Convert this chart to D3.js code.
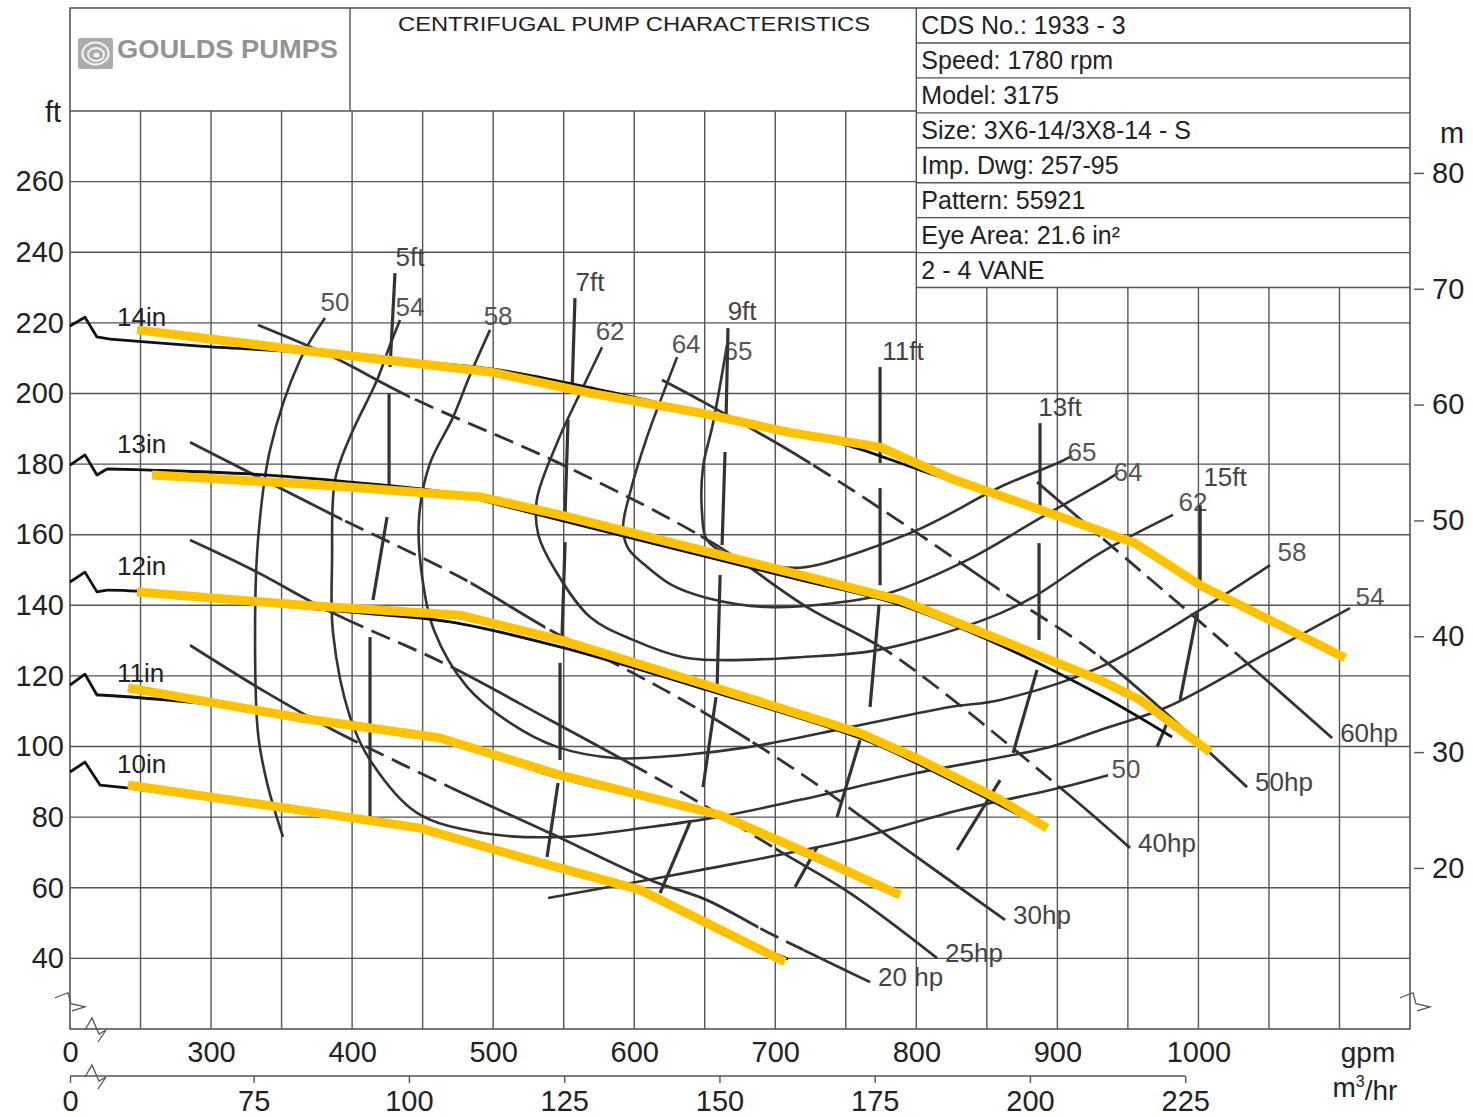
<!DOCTYPE html>
<html><head><meta charset="utf-8">
<script src="https://cdn.jsdelivr.net/npm/d3@7"></script>
<style>
body{margin:0;background:#fff}
svg{display:block;font-family:"Liberation Sans",Arial,Helvetica,sans-serif}
</style>
</head><body>
<svg id="chart" width="1473" height="1117"></svg>
<script>
// ---------------- DATA ----------------
const titleText = "CENTRIFUGAL PUMP CHARACTERISTICS";
const logoText = "GOULDS PUMPS";
const infoRows = ["CDS No.: 1933 - 3","Speed: 1780 rpm","Model: 3175","Size: 3X6-14/3X8-14 - S",
                  "Imp. Dwg: 257-95","Pattern: 55921","Eye Area: 21.6 in\u00B2","2 - 4 VANE"];
const ftTicks = [40,60,80,100,120,140,160,180,200,220,240,260];
const gpmTicks = [200,300,400,500,600,700,800,900,1000];
const gpmTickLabels = ["0","300","400","500","600","700","800","900","1000"];
const m3Ticks = [0,75,100,125,150,175,200,225];
const mTicks = [20,30,40,50,60,70,80];

// impeller head curves [gpm, ft] (black original lines)
const imp14 = [[200,219.1],[210.6,221.6],[219.1,216.0],[228.4,215.4],[292.2,213.4],[363.1,211.7],[448.2,208.9],[504.9,206.6],[575.8,201.0],[646.7,194.7],[710.5,189.1],[753.0,185.1],[802.7,178.3],[859.4,170.7],[930.3,160.5],[965.7,155.1],[1001.2,145.7],[1100.5,125.6]];
const imp13 = [[200,179.7],[210.6,182.6],[219.1,176.9],[226.2,178.6],[256.7,178.3],[327.6,177.2],[398.5,174.9],[469.4,171.8],[504.9,168.4],[547.4,164.1],[646.7,154.2],[717.6,147.2],[788.5,140.1],[859.4,128.7],[930.3,114.6],[981.3,102.7]];
const imp12 = [[200,146.6],[210.6,149.4],[219.1,143.8],[226.2,144.3],[247.5,144.0],[327.6,140.6],[398.5,138.1],[469.4,135.3],[549.5,128.0],[646.7,116.6],[760.1,102.4],[802.7,94.8],[859.4,83.4],[891.3,76.9]];
const imp11 = [[200,117.4],[210.6,120.5],[219.1,114.6],[221.3,114.6],[292.2,112.3],[363.1,108.1],[462.3,101.8],[547.4,91.1],[660.8,79.8],[717.6,69.8],[787.1,57.4]];
const imp10 = [[200,92.8],[210.6,95.6],[221.3,89.1],[240.4,88.3],[363.1,81.5],[448.2,76.4],[526.1,67.3],[604.1,58.8],[646.7,50.3],[709.1,39.8]];
const impNames = ["14in","13in","12in","11in","10in"];
const impLabelAt = [[233.3,219.1],[233.3,183.1],[233.3,148.6],[233.3,118.3],[233.3,92.5]];

// yellow highlighted curves [gpm, ft]
const hi14 = [[247.5,218.0],[363.1,212.3],[497.8,206.1],[568.7,200.1],[646.7,194.5],[710.5,188.9],[774.3,184.8],[823.9,176.0],[894.8,166.1],[955.1,157.6],[1001.2,145.7],[1104.0,125.1]];
const hi13 = [[258.1,176.9],[377.3,174.1],[490.7,170.7],[547.4,165.6],[646.7,155.7],[717.6,148.6],[788.5,141.5],[859.4,130.2],[930.3,118.8],[958.6,113.2],[1008.3,98.4]];
const hi12 = [[247.5,143.8],[363.1,140.1],[476.5,137.2],[547.4,130.2],[646.7,118.0],[760.1,103.8],[802.7,96.2],[859.4,84.9],[892.7,76.9]];
const hi11 = [[241.1,116.6],[363.1,108.1],[462.3,102.4],[547.4,91.9],[660.8,80.6],[717.6,70.7],[788.5,57.9]];
const hi10 = [[241.1,89.1],[363.1,82.0],[448.2,76.9],[526.1,67.9],[604.1,59.4],[646.7,50.9],[706.9,39.0]];

// efficiency (%) contours [gpm, ft]
const eff50a = [[380.8,221.4],[363.1,209.5],[341.8,184.0],[333.3,158.5],[331.2,133.0],[333.3,103.8],[339.7,89.7],[351.0,74.4]];
const eff50b = [[538.9,57.1],[646.7,65.0],[753.0,73.5],[831.0,82.0],[901.9,88.3],[935.9,91.9]];
const eff54 = [[434.0,220.8],[426.9,213.7],[417.7,203.8],[398.5,187.7],[387.9,175.5],[385.8,152.8],[386.5,132.1],[398.5,108.4],[412.7,96.2],[446.0,81.2],[492.8,75.5],[549.5,74.4],[611.2,77.2],[658.7,80.0],[717.6,84.9],[800.5,92.5],[894.8,99.9],[930.3,104.7],[977.8,111.2],[1048.7,126.5],[1107.5,139.2]];
const eff58 = [[497.8,218.0],[483.6,205.2],[471.6,193.3],[455.0,180.0],[447.5,165.0],[449.0,150.0],[458.0,133.0],[481.5,116.9],[512.0,106.7],[545.3,99.9],[587.8,96.7],[634.6,97.6],[682.1,99.9],[753.0,105.5],[823.9,111.2],[859.4,113.2],[930.3,122.5],[1001.2,138.7],[1050.8,151.4]];
const eff62 = [[577.2,213.1],[563.7,201.8],[545.3,186.0],[531.0,170.0],[532.0,160.0],[543.9,150.0],[568.7,136.7],[599.2,130.2],[634.6,125.3],[658.7,124.5],[717.6,125.3],[772.2,127.3],[847.3,135.8],[882.8,142.3],[930.3,154.8],[982.0,165.6]];
const eff64 = [[630.4,210.3],[623.3,202.9],[609.1,187.7],[597.0,171.8],[592.1,162.2],[595.6,156.2],[607.7,151.4],[626.8,145.7],[651.6,142.1],[694.2,139.5],[741.0,140.6],[780.7,143.5],[836.0,152.8],[887.7,164.7],[935.2,175.5],[943.0,177.5]];
const eff65 = [[665.8,213.7],[655.9,191.6],[648.8,179.2],[648.1,166.1],[651.6,158.5],[670.1,153.7],[712.6,150.6],[729.6,151.4],[800.5,161.3],[859.4,173.5],[901.9,180.6],[910.4,182.3]];
const effLabels = ["50","54","58","62","64","65","65","64","62","58","54","50"];
const effLabelAt = [[387.9,223.3],[441.1,221.9],[503.5,219.4],[582.9,215.1],[636.8,211.4],[673.6,209.5],
                    [917.5,180.9],[950.1,175.2],[996.2,166.7],[1066.4,152.5],[1121.7,139.8],[948.7,91.1]];

// power (hp) lines [gpm, ft], dashed gpm ranges
const hp20 = [[285.1,128.7],[339.7,115.2],[386.5,104.7],[469.4,88.5],[540.3,75.5],[611.2,62.2],[651.6,56.5],[694.2,47.5],[767.2,33.3]];
const hp25 = [[285.1,158.5],[329.7,150.0],[386.5,137.8],[464.5,123.7],[540.3,107.5],[634.6,86.8],[705.5,69.8],[753.0,58.5],[814.7,40.1]];
const hp30 = [[285.1,186.2],[386.5,165.6],[476.5,148.0],[540.3,133.0],[599.2,120.8],[646.7,110.3],[717.6,92.5],[790.6,71.5],[862.9,50.9]];
const hp40 = [[333.3,219.4],[386.5,210.3],[441.1,199.0],[552.4,179.2],[655.9,157.6],[722.5,139.5],[781.4,126.5],[904.0,87.7],[951.5,71.3]];
const hp50 = [[619.7,203.8],[646.7,198.1],[717.6,182.0],[800.5,160.5],[859.4,144.3],[930.3,125.3],[1034.5,88.5]];
const hp60 = [[885.6,174.9],[951.5,152.3],[1001.2,135.3],[1094.8,102.4]];
const hpNames = ["20 hp","25hp","30hp","40hp","50hp","60hp"];
const hpDashed = [[[395,470],[688,720]],[[395,470],[600,700]],[[393,484],[537,647],[682,753]],[[441,647],[774,902]],[[725,831],[859,930]],[[930,1030]]];

// NPSHr lines (segments) [gpm, ft]
const npsh5 = [[[430.4,234.1],[426.9,207.5]],[[426.2,200.1],[426.2,173.5]],[[424.8,165.0],[414.8,141.5]],[[412.7,131.0],[412.7,80.0]]];
const npsh7 = [[[558.0,227.0],[555.9,200.1]],[[553.1,192.5],[551.0,166.1]],[[551.0,157.9],[548.8,131.0]],[[547.4,123.7],[547.4,96.2]],[[546.0,89.7],[538.2,68.7]]];
const npsh9 = [[[666.5,218.5],[665.1,192.5]],[[664.4,183.4],[662.3,157.1]],[[660.9,148.6],[658.7,116.0]],[[658.0,114.0],[648.8,88.5]],[[639.6,78.6],[618.3,58.5]]];
const npsh11 = [[[774.3,207.5],[774.3,180.3]],[[774.3,173.2],[774.3,145.7]],[[773.6,140.1],[767.2,111.2]],[[760.1,101.8],[743.8,80.0]],[[729.6,71.5],[714.0,60.2]]];
const npsh13 = [[[887.7,191.6],[887.7,166.4]],[[887.0,157.6],[887.0,130.2]],[[885.6,121.7],[868.6,98.2]],[[859.4,90.5],[828.9,70.7]]];
const npsh15 = [[[1001.2,168.4],[1001.2,144.3]],[[999.1,137.8],[987.0,113.2]],[[977.8,106.7],[970.7,99.9]]];
const npshNames = ["5ft","7ft","9ft","11ft","13ft","15ft"];
const npshLabelAt = [[441.1,236.1],[568.7,229.0],[676.5,220.8],[790.6,209.5],[901.9,193.6],[1018.9,173.8]];

// ---------------- DRAW ----------------
const svg = d3.select("#chart");
const x = d3.scaleLinear().domain([200,1150]).range([70,1410]);
const y = d3.scaleLinear().domain([20,280]).range([1029,111]);
const GRID = "#555", INK = "#333";
const frameTop = 8, tableBottom = y(230), tableLeft = x(800), frameRight = x(1150), frameBottom = y(20), frameLeft = x(200);

// grid
const g = svg.append("g");
d3.range(250,1150,50).forEach(v=>{
  g.append("line").attr("x1",x(v)).attr("x2",x(v))
   .attr("y1", v<800 ? y(280) : (v===800 ? frameTop : tableBottom)).attr("y2",frameBottom)
   .attr("stroke",GRID).attr("stroke-width",1.4);
});
d3.range(40,281,20).forEach(v=>{
  g.append("line").attr("x1",frameLeft).attr("x2", v>=240 ? tableLeft : frameRight)
   .attr("y1",y(v)).attr("y2",y(v)).attr("stroke",GRID).attr("stroke-width",1.4);
});
// frame
g.append("rect").attr("x",frameLeft).attr("y",frameTop).attr("width",frameRight-frameLeft).attr("height",frameBottom-frameTop)
 .attr("fill","none").attr("stroke",GRID).attr("stroke-width",1.6);
g.append("line").attr("x1",350).attr("x2",350).attr("y1",frameTop).attr("y2",y(280)).attr("stroke",GRID).attr("stroke-width",1.4);
// info table
const rowH = (tableBottom-frameTop)/infoRows.length;
infoRows.forEach((t,i)=>{
  const y0 = frameTop + i*rowH;
  g.append("line").attr("x1",tableLeft).attr("x2",frameRight).attr("y1",y0+rowH).attr("y2",y0+rowH)
   .attr("stroke",GRID).attr("stroke-width",1.4);
  svg.append("text").attr("x",tableLeft+5).attr("y",y0+rowH/2).attr("dy","0.36em")
   .attr("font-size",25).attr("fill","#222").text(t);
});
// title
svg.append("text").attr("x",634).attr("y",23).attr("dy","0.36em").attr("text-anchor","middle")
  .attr("font-size",21).attr("fill","#222").attr("textLength",472).attr("lengthAdjust","spacingAndGlyphs").text(titleText);
// logo
const lg = svg.append("g").attr("opacity",0.7);
lg.append("rect").attr("x",78).attr("y",38).attr("width",35).attr("height",31).attr("rx",2).attr("fill","#8a8a8a");
lg.append("ellipse").attr("cx",95.5).attr("cy",53.5).attr("rx",13).attr("ry",11).attr("fill","none").attr("stroke","#eee").attr("stroke-width",2.2);
lg.append("ellipse").attr("cx",96).attr("cy",54.5).attr("rx",8).attr("ry",6.5).attr("fill","none").attr("stroke","#eee").attr("stroke-width",2);
lg.append("ellipse").attr("cx",96.5).attr("cy",55).attr("rx",3).attr("ry",2.5).attr("fill","#eee");
lg.append("text").attr("x",117).attr("y",58).attr("font-size",25).attr("font-weight","bold").attr("fill","#666")
  .attr("textLength",221).attr("lengthAdjust","spacingAndGlyphs").text(logoText);

// axes
const axL = svg.append("g").attr("transform",`translate(${frameLeft},0)`)
  .call(d3.axisLeft(y).tickValues(ftTicks).tickSize(0).tickPadding(6));
const axB = svg.append("g").attr("transform",`translate(0,${frameBottom})`)
  .call(d3.axisBottom(x).tickValues(gpmTicks).tickFormat((d,i)=>gpmTickLabels[i]).tickSize(0).tickPadding(12));
const m3ToGpm = m => m===0 ? 200 : m*4.40287;
const axM3 = svg.append("g").attr("transform","translate(0,1076)")
  .call(d3.axisBottom(x).tickValues(m3Ticks.map(m3ToGpm)).tickFormat((d,i)=>m3Ticks[i]).tickSize(7).tickPadding(7));
axM3.append("line").attr("x1",frameLeft).attr("x2",x(m3ToGpm(225))).attr("y1",0).attr("y2",0).attr("stroke",GRID).attr("stroke-width",1.4);
const axR = svg.append("g").attr("transform",`translate(${frameRight+4},0)`)
  .call(d3.axisRight(y).tickValues(mTicks.map(m=>m*3.28084)).tickFormat((d,i)=>mTicks[i]).tickSize(10).tickPadding(8));
[axL,axB,axM3,axR].forEach(a=>{
  a.select(".domain").remove();
  a.selectAll("text").attr("font-size",29).attr("fill","#222").attr("font-family",'"Liberation Sans",Arial,sans-serif');
  a.selectAll(".tick line").attr("stroke",GRID).attr("stroke-width",1.4);
});
svg.append("text").attr("x",53).attr("y",112).attr("dy","0.36em").attr("text-anchor","middle").attr("font-size",29).attr("fill","#222").text("ft");
svg.append("text").attr("x",1452).attr("y",133).attr("dy","0.36em").attr("text-anchor","middle").attr("font-size",29).attr("fill","#222").text("m");
svg.append("text").attr("x",1368).attr("y",1052).attr("dy","0.36em").attr("text-anchor","middle").attr("font-size",28).attr("fill","#222").text("gpm");
const m3t = svg.append("text").attr("x",1365).attr("y",1087).attr("dy","0.36em").attr("text-anchor","middle").attr("font-size",28).attr("fill","#222");
m3t.append("tspan").text("m");
m3t.append("tspan").attr("font-size",16).attr("dy","-0.6em").text("3");
m3t.append("tspan").attr("dy","0.45em").text("/hr");

// axis break marks
const brk = svg.append("g").attr("fill","none").attr("stroke","#555").attr("stroke-width",1.3);
const bx = frameLeft, by = frameBottom, yb = y(28);
brk.append("path").attr("d",`M${bx+15},${by+1} L${bx+22},${by-11} L${bx+29},${by+5} L${bx+36},${by+1} L${bx+28},${by+13}`);
brk.append("path").attr("d",`M${bx+15},1077 L${bx+22},1065 L${bx+29},1081 L${bx+36},1077 L${bx+28},1089`);
brk.append("path").attr("d",`M${bx-15},${yb-3} L${bx-2},${yb-8} L${bx+1},${yb+3} L${bx+15},${yb+6} L${bx+2},${yb+10}`);
brk.append("path").attr("d",`M${frameRight-10},${yb-3} L${frameRight+3},${yb-8} L${frameRight+6},${yb+3} L${frameRight+20},${yb+6} L${frameRight+7},${yb+10}`);

const line = d3.line().x(d=>x(d[0])).y(d=>y(d[1])).curve(d3.curveCatmullRom.alpha(0.5));
const lineLin = d3.line().x(d=>x(d[0])).y(d=>y(d[1]));

// efficiency curves
const effG = svg.append("g").attr("fill","none").attr("stroke",INK).attr("stroke-width",2.6);
[eff50a,eff50b,eff54,eff58,eff62,eff64,eff65].forEach(c=>effG.append("path").attr("d",line(c)));
effLabels.forEach((t,i)=>svg.append("text").attr("x",x(effLabelAt[i][0])).attr("y",y(effLabelAt[i][1]))
  .attr("text-anchor","middle").attr("font-size",26).attr("fill","#555").text(t));

// NPSH lines
const npG = svg.append("g").attr("fill","none").attr("stroke",INK).attr("stroke-width",3.2);
[npsh5,npsh7,npsh9,npsh11,npsh13,npsh15].forEach(segs=>segs.forEach(s=>npG.append("path").attr("d",lineLin(s))));
npshNames.forEach((t,i)=>svg.append("text").attr("x",x(npshLabelAt[i][0])).attr("y",y(npshLabelAt[i][1]))
  .attr("text-anchor","middle").attr("font-size",26).attr("fill","#444").text(t));

// hp lines with dashed portions
const defs = svg.append("defs");
const hpG = svg.append("g").attr("fill","none").attr("stroke",INK).attr("stroke-width",2.8);
[hp20,hp25,hp30,hp40,hp50,hp60].forEach((c,i)=>{
  const dr = hpDashed[i];
  const solidClip = defs.append("clipPath").attr("id","hs"+i);
  const dashClip = defs.append("clipPath").attr("id","hd"+i);
  let prev = 150;
  dr.forEach(r=>{
    solidClip.append("rect").attr("x",x(prev)).attr("y",0).attr("width",Math.max(0,x(r[0])-x(prev))).attr("height",1117);
    dashClip.append("rect").attr("x",x(r[0])).attr("y",0).attr("width",x(r[1])-x(r[0])).attr("height",1117);
    prev = r[1];
  });
  solidClip.append("rect").attr("x",x(prev)).attr("y",0).attr("width",1473).attr("height",1117);
  hpG.append("path").attr("d",line(c)).attr("clip-path",`url(#hs${i})`);
  hpG.append("path").attr("d",line(c)).attr("clip-path",`url(#hd${i})`).attr("stroke-dasharray","20 9");
  const e = c[c.length-1];
  svg.append("text").attr("x",x(e[0])+8).attr("y",y(e[1])+4).attr("font-size",26).attr("fill","#444").text(hpNames[i]);
});

// impeller curves (black)
const impG = svg.append("g").attr("fill","none").attr("stroke","#111").attr("stroke-width",2.8).attr("stroke-linejoin","round");
[imp14,imp13,imp12,imp11,imp10].forEach((c,i)=>{
  impG.append("path").attr("d",lineLin(c.slice(0,4)));
  impG.append("path").attr("d",line(c.slice(3)));
  svg.append("text").attr("x",x(impLabelAt[i][0])).attr("y",y(impLabelAt[i][1]))
    .attr("font-size",26).attr("fill","#222").text(impNames[i]);
});

// yellow highlights
const hiG = svg.append("g").attr("fill","none").attr("stroke","#FFC200").attr("stroke-width",9).attr("stroke-linejoin","round");
[hi14,hi13,hi12,hi11,hi10].forEach(c=>hiG.append("path").attr("d",lineLin(c)));
</script>
</body></html>
